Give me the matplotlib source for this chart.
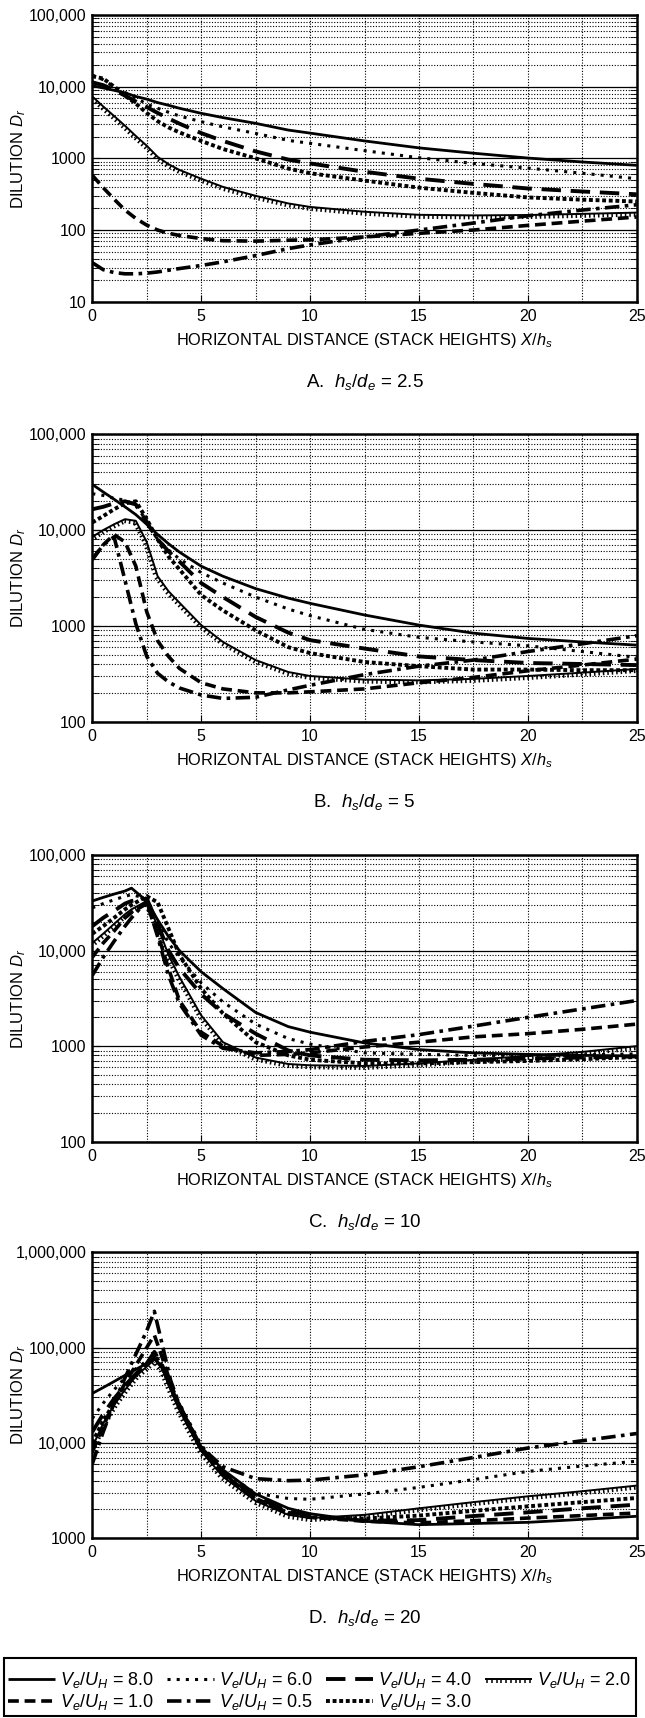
import matplotlib
matplotlib.use("Agg")
import matplotlib.pyplot as plt
import matplotlib.patheffects as pe
from matplotlib.ticker import MultipleLocator, FuncFormatter, LogLocator, NullFormatter
from matplotlib.patches import Rectangle

plt.rcParams['font.family'] = ['Liberation Sans', 'DejaVu Sans']
plt.rcParams['mathtext.fontset'] = 'custom'
plt.rcParams['mathtext.rm'] = 'Liberation Sans'
plt.rcParams['mathtext.it'] = 'Liberation Sans:italic'
plt.rcParams['mathtext.bf'] = 'Liberation Sans:bold'

# Ve/UH values, in legend order
ratios = [8.0, 6.0, 4.0, 2.0, 1.0, 0.5, 3.0]

# ---- panel A: hs/de = 2.5 ----
xa = [0, 0.5, 1, 1.5, 2, 2.5, 3, 3.5, 4, 5, 6, 7.5, 9, 10, 12.5, 15, 17.5, 20, 22.5, 25]
a_80 = [10300, 9600, 8900, 8200, 7300, 6700, 6000, 5500, 5000, 4250, 3700, 3080, 2480, 2250, 1750, 1400, 1180, 1010, 890, 800]
a_60 = [14500, 12500, 10000, 8300, 7000, 5700, 5000, 4400, 3900, 3250, 2750, 2230, 1780, 1620, 1280, 1020, 850, 730, 620, 520]
a_40 = [11500, 10500, 9000, 7500, 6200, 5200, 4300, 3600, 3050, 2250, 1750, 1250, 960, 850, 650, 520, 440, 380, 345, 315]
a_20 = [7300, 5300, 3900, 2850, 2050, 1500, 1050, 830, 690, 520, 400, 300, 235, 210, 180, 163, 160, 162, 168, 175]
a_10 = [580, 390, 270, 190, 145, 117, 100, 90, 84, 76, 71, 70, 72, 73, 80, 90, 100, 116, 133, 152]
a_05 = [35, 28, 25.5, 24.5, 24.5, 25, 26, 27.5, 29, 32, 36, 44, 55, 62, 80, 100, 125, 158, 190, 225]
a_30 = [14000, 13000, 10000, 7500, 5800, 4300, 3300, 2700, 2300, 1750, 1350, 1000, 720, 620, 490, 390, 330, 285, 265, 250]

# ---- panel B: hs/de = 5 ----
xb = [0, 0.5, 1, 1.5, 2, 2.5, 3, 3.5, 4, 5, 6, 7.5, 9, 10, 12.5, 15, 17.5, 20, 22.5, 25]
b_80 = [30000, 25000, 21000, 17500, 14500, 11500, 9000, 7200, 5900, 4200, 3300, 2450, 1950, 1720, 1300, 1020, 840, 740, 680, 630]
b_60 = [24000, 23000, 21500, 20500, 18000, 12500, 8000, 6200, 5000, 3600, 2800, 2000, 1500, 1280, 920, 760, 680, 620, 540, 470]
b_40 = [16500, 17500, 19000, 20000, 18500, 12000, 8000, 6000, 4700, 2800, 2000, 1240, 850, 710, 580, 480, 440, 410, 400, 390]
b_20 = [8500, 10000, 11500, 13000, 12500, 7500, 3300, 2300, 1750, 1020, 680, 440, 330, 300, 275, 270, 280, 300, 325, 355]
b_10 = [5000, 7000, 9000, 7500, 4200, 1400, 700, 480, 360, 255, 220, 200, 200, 205, 220, 255, 290, 340, 390, 450]
b_05 = [4900, 7000, 8500, 3000, 1050, 480, 320, 260, 225, 190, 175, 180, 215, 240, 310, 380, 440, 540, 650, 790]
b_30 = [12000, 14000, 16500, 19000, 20000, 13000, 8000, 5300, 3900, 2100, 1450, 900, 600, 520, 420, 380, 350, 350, 345, 345]

# ---- panel C: hs/de = 10 ----
xc = [0, 0.5, 1, 1.5, 1.8, 2.5, 3, 3.5, 4, 5, 6, 7.5, 9, 10, 12.5, 15, 17.5, 20, 22.5, 25]
c_80 = [33000, 36000, 39000, 42000, 45000, 33000, 21000, 14000, 10000, 6000, 4000, 2250, 1600, 1400, 1080, 920, 850, 820, 800, 790]
c_60 = [28000, 31000, 34000, 37000, 38500, 35000, 20000, 12000, 8500, 4600, 2900, 1700, 1200, 1050, 850, 820, 800, 800, 810, 830]
c_40 = [18000, 22000, 26000, 31000, 33000, 35000, 19000, 10000, 6500, 3500, 2200, 1350, 900, 800, 720, 710, 720, 740, 760, 780]
c_20 = [12000, 15000, 19000, 24000, 27000, 33000, 18000, 9000, 5300, 2100, 1100, 760, 650, 630, 620, 660, 720, 790, 870, 1000]
c_10 = [8500, 12000, 16000, 22000, 25000, 31000, 15000, 6500, 3000, 1400, 1000, 800, 820, 850, 980, 1100, 1250, 1350, 1500, 1700]
c_05 = [5500, 8500, 12500, 18000, 22000, 33000, 14000, 5500, 2800, 1300, 950, 850, 880, 920, 1120, 1320, 1620, 2000, 2450, 3000]
c_30 = [15000, 18000, 22000, 27000, 30000, 37000, 32000, 17000, 9000, 4000, 2200, 1100, 800, 720, 660, 660, 680, 700, 730, 770]

# ---- panel D: hs/de = 20 ----
xd = [0, 0.5, 1, 1.5, 2, 2.5, 2.85, 3.2, 3.6, 4, 5, 6, 7.5, 9, 10, 12.5, 15, 17.5, 20, 22.5, 25]
d_80 = [33000, 38000, 44000, 51000, 59000, 68000, 78000, 62000, 38000, 25000, 9000, 5200, 2900, 2050, 1800, 1500, 1380, 1420, 1460, 1570, 1690]
d_60 = [18000, 26000, 36000, 48000, 60000, 72000, 82000, 65000, 40000, 26000, 9500, 5000, 2950, 2600, 2550, 2900, 3400, 4100, 5000, 5700, 6400]
d_40 = [13000, 20000, 29000, 40000, 53000, 68000, 90000, 66000, 38000, 24000, 8800, 4800, 2700, 1900, 1700, 1520, 1540, 1700, 1860, 2050, 2240]
d_20 = [9000, 16000, 25000, 36000, 50000, 63000, 75000, 60000, 36000, 22000, 8200, 4400, 2450, 1750, 1620, 1750, 2050, 2380, 2740, 3100, 3550]
d_10 = [8000, 15000, 26000, 42000, 65000, 100000, 135000, 80000, 42000, 24000, 8500, 4700, 2600, 1850, 1650, 1500, 1440, 1520, 1620, 1720, 1830]
d_05 = [6000, 13000, 26000, 48000, 85000, 150000, 240000, 110000, 45000, 25000, 9000, 5600, 4200, 4000, 4050, 4600, 5600, 7000, 8800, 10500, 12500]
d_30 = [10000, 17000, 26000, 38000, 52000, 68000, 85000, 64000, 38000, 23000, 8500, 4600, 2550, 1820, 1650, 1600, 1720, 1930, 2150, 2380, 2630]

panels = [
    ("A.", "2.5", xa, [a_80, a_60, a_40, a_20, a_10, a_05, a_30], (10, 1e5)),
    ("B.", "5", xb, [b_80, b_60, b_40, b_20, b_10, b_05, b_30], (100, 1e5)),
    ("C.", "10", xc, [c_80, c_60, c_40, c_20, c_10, c_05, c_30], (100, 1e5)),
    ("D.", "20", xd, [d_80, d_60, d_40, d_20, d_10, d_05, d_30], (1000, 1e6)),
]

# line styles per Ve/UH
styles = {
    8.0: dict(ls='-', lw=2.0),
    6.0: dict(ls=(0, (1, 2)), lw=2.2),
    4.0: dict(ls=(0, (5, 2.5)), lw=2.8),
    2.0: dict(ls='-', lw=1.4),
    1.0: dict(ls=(0, (3, 1.6)), lw=2.6),
    0.5: dict(ls=(0, (4, 1.5, 1, 1.5)), lw=2.6),
    3.0: dict(ls=(0, (1, 0.7)), lw=2.8),
}

W, H = 645, 1718
fig = plt.figure(figsize=(W / 100, H / 100), dpi=100)

# axes top / bottom in pixels from top of figure
boxes = [(15, 301.7), (434.3, 721.7), (855, 1141.7), (1252.3, 1538)]
left_px, right_px = 92.3, 636.7


def dil_fmt(v, pos):
    v = int(round(v))
    return f"{v:,}" if v >= 10000 else f"{v}"


handles = {}
for (tag, val, x, series, ylim), (top, bot) in zip(panels, boxes):
    ax = fig.add_axes([left_px / W, 1 - bot / H, (right_px - left_px) / W, (bot - top) / H])
    ax.set_yscale('log')
    ax.set_xlim(0, 25)
    ax.set_ylim(*ylim)

    for r, y in zip(ratios, series):
        st = styles[r]
        ln, = ax.plot(x, y, color='black', linestyle=st['ls'], linewidth=st['lw'],
                      dash_capstyle='butt', solid_capstyle='butt',
                      label=f"$V_e/U_H$ = {r:.1f}")
        if r == 2.0:
            ln.set_path_effects([pe.withTickedStroke(spacing=3.2, angle=-90, length=0.9, linewidth=1.1)])
        handles[r] = ln

    ax.xaxis.set_major_locator(MultipleLocator(5))
    ax.xaxis.set_minor_locator(MultipleLocator(2.5))
    ax.yaxis.set_major_locator(LogLocator(base=10, numticks=10))
    ax.yaxis.set_minor_locator(LogLocator(base=10, subs=range(2, 10), numticks=20))
    ax.yaxis.set_major_formatter(FuncFormatter(dil_fmt))
    ax.yaxis.set_minor_formatter(NullFormatter())

    ax.grid(True, which='major', axis='y', color='black', linestyle='-', linewidth=0.9)
    ax.grid(True, which='minor', axis='y', color='black', linestyle=(0, (1, 1.5)), linewidth=0.8)
    ax.grid(True, which='both', axis='x', color='black', linestyle=(0, (1, 1.5)), linewidth=0.8)

    ax.tick_params(which='both', direction='in', right=True, top=False, labelsize=11.5, color='black')
    ax.tick_params(axis='y', which='major', length=6, pad=4)
    ax.tick_params(axis='y', which='minor', length=5)
    ax.tick_params(axis='x', which='major', length=5, pad=5)
    ax.tick_params(axis='x', which='minor', length=0)
    for s in ax.spines.values():
        s.set_linewidth(1.8)

    ax.set_xlabel("HORIZONTAL DISTANCE (STACK HEIGHTS) $X/h_s$", fontsize=11.8)
    ax.xaxis.label.set_va('center')
    ax.xaxis.set_label_coords(0.5, -39 / (bot - top))
    ax.set_ylabel("DILUTION $D_r$", fontsize=12)
    ax.yaxis.label.set_va('center')
    ax.yaxis.set_label_coords(-74 / (right_px - left_px), 0.5)

    fig.text((left_px + right_px) / 2 / W, 1 - (bot + 80) / H, f"{tag}  $h_s/d_e$ = {val}",
             ha='center', va='center', fontsize=13.5)

# legend box
fig.patches.append(Rectangle((4 / W, 1 - 1716 / H), 632 / W, 58 / H, transform=fig.transFigure,
                             fill=False, edgecolor='black', linewidth=1.5))
row1 = [8.0, 6.0, 4.0, 2.0]
row2 = [1.0, 0.5, 3.0]
common = dict(frameon=False, loc='center left', fontsize=13, handlelength=2.6,
              handletextpad=0.3, columnspacing=0.7, borderpad=0, borderaxespad=0)
fig.legend([handles[r] for r in row1], [handles[r].get_label() for r in row1], ncol=4,
           bbox_to_anchor=(8 / W, 1 - 1680 / H), **common)
fig.legend([handles[r] for r in row2], [handles[r].get_label() for r in row2], ncol=3,
           bbox_to_anchor=(8 / W, 1 - 1702 / H), **common)

fig.savefig("out.png", dpi=100)
